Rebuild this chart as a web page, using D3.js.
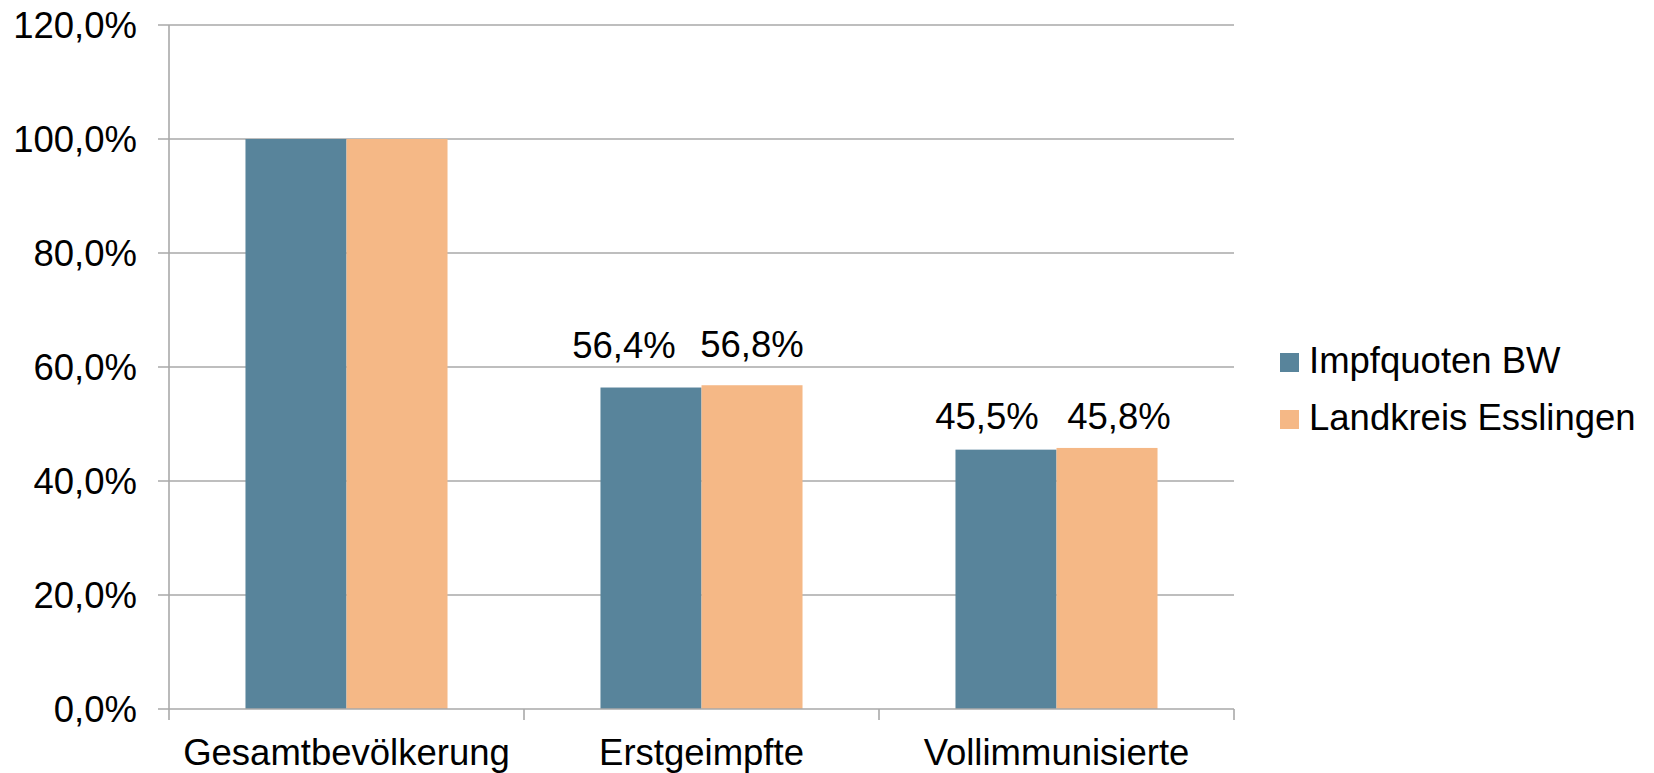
<!DOCTYPE html>
<html>
<head>
<meta charset="utf-8">
<script src="https://cdn.jsdelivr.net/npm/d3@7"></script>
<style>
  html, body { margin: 0; padding: 0; background: #fff; }
  svg { display: block; font-family: "Liberation Sans", Arial, sans-serif; }
</style>
</head>
<body>
<svg id="chart" width="1654" height="773"></svg>
<script>
// ---- data ----
const categories = ["Gesamtbevölkerung", "Erstgeimpfte", "Vollimmunisierte"];
const seriesNames = ["Impfquoten BW", "Landkreis Esslingen"];
const impfquotenBW = [1.000, 0.564, 0.455];
const landkreisEsslingen = [1.000, 0.568, 0.458];
const showLabel = [false, true, true];
const yTicks = [0, 0.2, 0.4, 0.6, 0.8, 1.0, 1.2];

// ---- layout / style ----
const colors = ["#58849B", "#F5B886"];
const fontSize = 36.5;
const plot = { left: 169, right: 1234, top: 25, bottom: 709 };
// manual label nudges (Excel-style hand placement) [series][category]
const labelDx = [[0, -27, -19], [0, 0, 12]];
const labelDy = [[0, 30, 21], [0, 28, 19]];

const svg = d3.select("#chart");
const fmt = v => d3.format(".1f")(v * 100).replace(".", ",") + "%";

const x0 = d3.scaleBand().domain(categories).range([plot.left, plot.right]).paddingInner(0).paddingOuter(0);
const x1 = d3.scaleBand().domain(seriesNames).range([0, x0.bandwidth()]).paddingInner(0).paddingOuter(0.757);
const y = d3.scaleLinear().domain([0, 1.2]).range([plot.bottom, plot.top]);

const grid = "#A9A9A9";

// gridlines
svg.append("g").selectAll("line").data(yTicks.filter(t => t > 0)).join("line")
  .attr("x1", plot.left - 11).attr("x2", plot.right)
  .attr("y1", d => y(d)).attr("y2", d => y(d))
  .attr("stroke", grid).attr("stroke-width", 1.6);

// y tick labels
svg.append("g").selectAll("text").data(yTicks).join("text")
  .attr("x", 137).attr("y", d => y(d) + 13)
  .attr("text-anchor", "end").attr("font-size", fontSize).attr("fill", "#000")
  .text(d => fmt(d));

// bars
const data = categories.map((c, i) => ({ cat: c, i, vals: [impfquotenBW[i], landkreisEsslingen[i]] }));
const groups = svg.append("g").selectAll("g").data(data).join("g")
  .attr("transform", d => `translate(${x0(d.cat)},0)`);
groups.selectAll("rect").data(d => d.vals.map((v, s) => ({ v, s, i: d.i }))).join("rect")
  .attr("x", d => x1(seriesNames[d.s]))
  .attr("width", x1.bandwidth())
  .attr("y", d => y(d.v))
  .attr("height", d => y(0) - y(d.v))
  .attr("fill", d => colors[d.s]);

// data labels
groups.selectAll("text").data(d => d.vals.map((v, s) => ({ v, s, i: d.i })).filter(d => showLabel[d.i])).join("text")
  .attr("x", d => x1(seriesNames[d.s]) + x1.bandwidth() / 2 + labelDx[d.s][d.i])
  .attr("y", d => y(d.v) - labelDy[d.s][d.i])
  .attr("text-anchor", "middle").attr("font-size", fontSize).attr("fill", "#000")
  .text(d => fmt(d.v));

// x axis line
svg.append("line").attr("x1", plot.left - 11).attr("x2", plot.right)
  .attr("y1", y(0)).attr("y2", y(0)).attr("stroke", grid).attr("stroke-width", 1.6);
// y axis line
svg.append("line").attr("x1", plot.left).attr("x2", plot.left)
  .attr("y1", plot.top).attr("y2", y(0) + 11).attr("stroke", grid).attr("stroke-width", 1.6);
// category ticks
const tickXs = categories.map(c => x0(c) + x0.bandwidth());
svg.append("g").selectAll("line").data(tickXs).join("line")
  .attr("x1", d => d).attr("x2", d => d)
  .attr("y1", y(0)).attr("y2", y(0) + 11)
  .attr("stroke", grid).attr("stroke-width", 1.6);

// category labels
svg.append("g").selectAll("text").data(categories).join("text")
  .attr("x", d => x0(d) + x0.bandwidth() / 2).attr("y", 765)
  .attr("text-anchor", "middle").attr("font-size", fontSize).attr("fill", "#000")
  .text(d => d);

// legend
const legend = svg.append("g").selectAll("g").data(seriesNames).join("g")
  .attr("transform", (d, i) => `translate(1280, ${353 + i * 57})`);
legend.append("rect").attr("width", 19).attr("height", 19).attr("fill", (d, i) => colors[i]);
legend.append("text").attr("x", 29).attr("y", 20).attr("font-size", fontSize).attr("fill", "#000").text(d => d);
</script>
</body>
</html>
